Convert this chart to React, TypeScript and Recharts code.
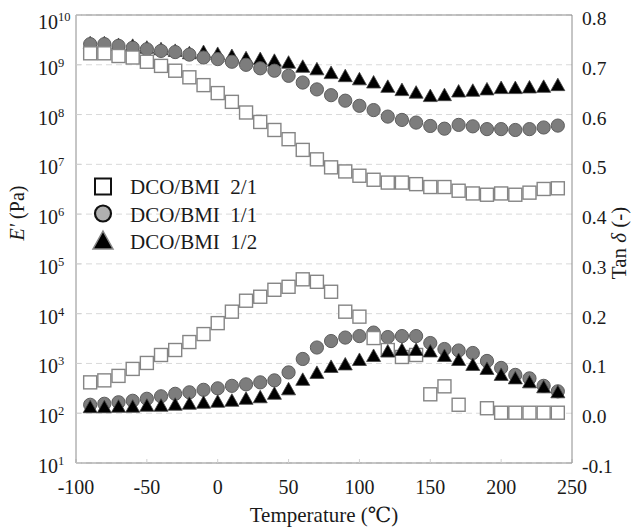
import { CartesianGrid, ComposedChart, ReferenceLine, Scatter, XAxis, YAxis } from "recharts";

const temps = [
  -90, -80, -70, -60, -50, -40, -30, -20, -10, 0, 10, 20, 30, 40, 50, 60, 70, 80, 90, 100,
  110, 120, 130, 140, 150, 160, 170, 180, 190, 200, 210, 220, 230, 240,
];

// storage modulus E' (Pa)
const e21 = [
  1.7e9, 1.7e9, 1.5e9, 1.4e9, 1.15e9, 9.5e8, 7.6e8, 5.6e8, 3.9e8, 2.7e8, 1.8e8, 1.1e8, 7.1e7, 4.9e7,
  3.2e7, 1.95e7, 1.26e7, 8.7e6, 7.2e6, 5.9e6, 4.9e6, 4.3e6, 4.3e6, 4.0e6, 3.5e6, 3.5e6, 2.95e6,
  2.6e6, 2.45e6, 2.6e6, 2.45e6, 2.7e6, 3.2e6, 3.3e6,
];
const e11 = [
  2.6e9, 2.6e9, 2.4e9, 2.2e9, 2.05e9, 1.9e9, 1.8e9, 1.6e9, 1.4e9, 1.3e9, 1.15e9, 1.0e9, 8.5e8, 7.6e8,
  6.0e8, 4.4e8, 3.2e8, 2.45e8, 1.9e8, 1.5e8, 1.23e8, 9.1e7, 7.8e7, 6.9e7, 5.9e7, 5.2e7, 6.2e7,
  5.8e7, 5.1e7, 5.1e7, 4.9e7, 5.1e7, 5.5e7, 6.0e7,
];
const e12 = [
  2.7e9, 2.7e9, 2.5e9, 2.4e9, 2.2e9, 2.05e9, 1.9e9, 1.7e9, 1.8e9, 1.65e9, 1.5e9, 1.35e9, 1.3e9, 1.2e9,
  1.1e9, 9.1e8, 8.1e8, 6.8e8, 5.9e8, 5.1e8, 4.4e8, 3.6e8, 3.1e8, 2.75e8, 2.35e8, 2.45e8, 2.9e8,
  3.0e8, 3.2e8, 3.4e8, 3.4e8, 3.5e8, 3.6e8, 3.9e8,
];

// tan delta
const t21 = [
  0.062, 0.066, 0.075, 0.089, 0.101, 0.117, 0.127, 0.143, 0.159, 0.181, 0.204, 0.226, 0.234, 0.248,
  0.254, 0.269, 0.264, 0.244, 0.204, 0.194, 0.151, 0.127, 0.113, 0.117, 0.038, 0.054, 0.017, null,
  0.01, 0.001, 0.001, 0.001, 0.001, 0.001,
];
const t11 = [
  0.017, 0.019, 0.022, 0.025, 0.029, 0.034, 0.039, 0.042, 0.047, 0.05, 0.055, 0.058, 0.062, 0.066,
  0.082, 0.109, 0.132, 0.145, 0.152, 0.155, 0.162, 0.153, 0.155, 0.155, 0.141, 0.129, 0.126, 0.121,
  0.105, 0.091, 0.077, 0.07, 0.055, 0.044,
];
const t12 = [
  0.012, 0.012, 0.013, 0.013, 0.015, 0.015, 0.017, 0.019, 0.021, 0.023, 0.025, 0.029, 0.032, 0.039,
  0.048, 0.067, 0.081, 0.093, 0.098, 0.107, 0.115, 0.124, 0.127, 0.127, 0.124, 0.115, 0.107, 0.097,
  0.089, 0.077, 0.07, 0.062, 0.052, 0.042,
];

const xTicks = [-100, -50, 0, 50, 100, 150, 200, 250];
const eTicks = [1e1, 1e2, 1e3, 1e4, 1e5, 1e6, 1e7, 1e8, 1e9, 1e10];
const tanTicks = [-0.1, 0, 0.1, 0.2, 0.3, 0.4, 0.5, 0.6, 0.7, 0.8];
const legendNames = ["DCO/BMI  2/1", "DCO/BMI  1/1", "DCO/BMI  1/2"];

const SERIF = "'Liberation Serif', 'Times New Roman', 'DejaVu Serif', serif";
const FRAME = "#8c8c8c";
const INK = "#1a1a1a";

const pts = (ys: (number | null)[]) =>
  temps.map((t, i) => ({ t, v: ys[i] })).filter((p) => p.v != null);

const Square = ({ cx, cy }: any) => (
  <rect x={cx - 6.5} y={cy - 6.5} width={13} height={13} fill="#fff" stroke="#858585" strokeWidth={1.4} />
);
const Dot = ({ cx, cy }: any) => (
  <circle cx={cx} cy={cy} r={6.6} fill="#7d7d7d" stroke="#5e5e5e" strokeWidth={1} />
);
const Tri = ({ cx, cy }: any) => (
  <path d={`M${cx},${cy - 7} L${cx + 7},${cy + 5.5} L${cx - 7},${cy + 5.5} Z`} fill="#000" stroke="#444" strokeWidth={0.8} />
);

// left tick labels are left-aligned in the original
const PowTick = ({ y, payload }: any) => {
  const exp = Math.round(Math.log10(payload.value));
  return (
    <text x={38} y={y + (exp === 10 ? 14 : 10)} textAnchor="start" fontSize={20} fill={INK}>
      10
      <tspan dy={-8} fontSize={12.5}>
        {exp}
      </tspan>
    </text>
  );
};

const TanTick = ({ x, y, payload }: any) => (
  <text x={x} y={y + 10} textAnchor="start" fontSize={19.5} fill={INK}>
    {payload.value.toFixed(1)}
  </text>
);

const TempTick = ({ x, y, payload }: any) => (
  <text x={x} y={y + 23} textAnchor="middle" fontSize={20} fill={INK}>
    {payload.value}
  </text>
);

export default function App() {
  return (
    <div style={{ position: "absolute", left: 0, top: 0, width: 636, height: 530, background: "#fff" }}>
      <style>{`svg text { font-family: ${SERIF}; }`}</style>
      <ComposedChart width={636} height={530} margin={{ top: 15, right: 0, bottom: 0, left: 0 }}>
        <CartesianGrid yAxisId="e" horizontal vertical={false} stroke="#d9d9d9" strokeDasharray="6 4" />
        <XAxis
          dataKey="t"
          type="number"
          domain={[-100, 250]}
          ticks={xTicks}
          height={67}
          stroke={FRAME}
          tickLine={{ stroke: "#d0d0d0" }}
          tickSize={-4}
          tickMargin={12}
          tick={<TempTick />}
        />
        <YAxis
          yAxisId="e"
          scale="log"
          domain={[10, 1e10]}
          ticks={eTicks}
          allowDataOverflow
          width={76}
          stroke={FRAME}
          tickLine={{ stroke: "#d0d0d0" }}
          tickSize={-5}
          tickMargin={11}
          tick={<PowTick />}
        />
        <YAxis
          yAxisId="tan"
          orientation="right"
          domain={[-0.1, 0.8]}
          ticks={tanTicks}
          allowDataOverflow
          width={64}
          stroke={FRAME}
          tickLine={false}
          tickSize={0}
          tickMargin={10}
          tick={<TanTick />}
        />
        <ReferenceLine yAxisId="e" y={1e10} stroke={FRAME} strokeWidth={1} />
        <Scatter yAxisId="e" data={pts(e12)} dataKey="v" shape={<Tri />} isAnimationActive={false} />
        <Scatter yAxisId="e" data={pts(e11)} dataKey="v" shape={<Dot />} isAnimationActive={false} />
        <Scatter yAxisId="e" data={pts(e21)} dataKey="v" shape={<Square />} isAnimationActive={false} />
        <Scatter yAxisId="tan" data={pts(t11)} dataKey="v" shape={<Dot />} isAnimationActive={false} />
        <Scatter yAxisId="tan" data={pts(t21)} dataKey="v" shape={<Square />} isAnimationActive={false} />
        <Scatter yAxisId="tan" data={pts(t12)} dataKey="v" shape={<Tri />} isAnimationActive={false} />
      </ComposedChart>
      <svg width={636} height={530} style={{ position: "absolute", left: 0, top: 0, pointerEvents: "none" }}>
        <text x={324} y={522} textAnchor="middle" fontSize={21} fill={INK}>
          Temperature (℃)
        </text>
        <text transform="translate(24,213) rotate(-90)" textAnchor="middle" fontSize={20} fill={INK}>
          <tspan fontStyle="italic">E'</tspan> (Pa)
        </text>
        <text transform="translate(626,243) rotate(-90)" textAnchor="middle" fontSize={21} fill={INK}>
          Tan <tspan fontStyle="italic">δ</tspan> (-)
        </text>
        <rect x={95} y={178.5} width={16} height={16} fill="#fff" stroke="#111" strokeWidth={2} />
        <circle cx={103} cy={213.5} r={8} fill="#b0b0b0" stroke="#111" strokeWidth={2.2} />
        <path d="M103,231 L113,249 L93,249 Z" fill="#000" stroke="#888" strokeWidth={1.5} />
        {legendNames.map((n, i) => (
          <text key={n} x={130} y={194 + i * 27.5} fontSize={21} fill={INK} style={{ whiteSpace: "pre" }}>
            {n}
          </text>
        ))}
      </svg>
    </div>
  );
}
